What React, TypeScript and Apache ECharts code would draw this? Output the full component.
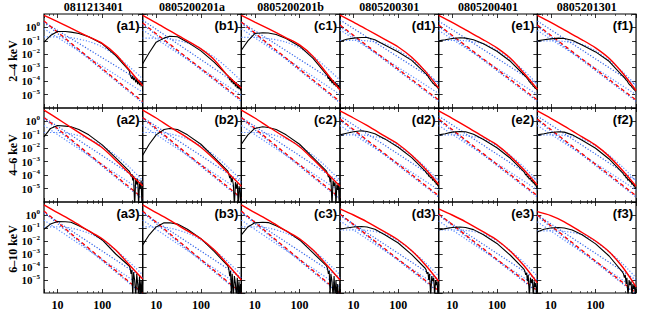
import React, { useEffect, useRef } from "react";
import * as echarts from "echarts";

const COLUMN_TITLES = ["0811213401", "0805200201a", "0805200201b", "0805200301", "0805200401", "0805201301"];
const ROW_TITLES = ["2–4 keV", "4–6 keV", "6–10 keV"];
const PANEL_LETTERS = ["a", "b", "c", "d", "e", "f"];

const RED_X = [5, 10, 20, 50, 100, 200, 400, 800];
const BLACK_X = [5, 7, 10, 15, 20, 30, 50, 100, 200, 400];
const TAIL_X = [420, 440, 460, 480, 500, 530, 560, 590, 620, 650, 680, 710, 740, 770, 800];
const FLAT_X = [5, 10, 20, 50, 100, 200, 400, 800];
const LINE_X = [5, 800];

// panel order: row 1 a..f, row 2 a..f, row 3 a..f
const RED_SOLID = [
  [8, 2.7, 0.87, 0.2, 0.065, 0.01, 7e-4, 4.5e-5],
  [8, 2.2, 0.57, 0.1, 0.025, 3.8e-3, 2.5e-4, 3e-5],
  [8, 2.5, 0.8, 0.17, 0.05, 7e-3, 4e-4, 2.2e-5],
  [8.4, 2.5, 0.7, 0.13, 0.035, 6e-3, 5.6e-4, 3e-5],
  [8, 2.4, 0.65, 0.12, 0.03, 5e-3, 4e-4, 2.5e-5],
  [8, 2.4, 0.65, 0.12, 0.03, 5e-3, 4e-4, 2e-5],
  [7, 1.6, 0.36, 0.05, 0.011, 1.3e-3, 1.4e-4, 1.6e-5],
  [7, 1.8, 0.4, 0.06, 0.012, 1.5e-3, 1.5e-4, 1.5e-5],
  [7, 1.8, 0.4, 0.06, 0.013, 1.5e-3, 1.5e-4, 1.5e-5],
  [6, 1.8, 0.5, 0.08, 0.02, 3e-3, 3e-4, 2e-5],
  [6, 1.7, 0.45, 0.07, 0.018, 2.5e-3, 2.5e-4, 1.8e-5],
  [6, 1.7, 0.45, 0.07, 0.017, 2.5e-3, 2.2e-4, 1.5e-5],
  [6, 1.5, 0.4, 0.06, 0.015, 2e-3, 1.5e-4, 1.2e-5],
  [6, 1.5, 0.4, 0.06, 0.015, 2e-3, 1.5e-4, 1e-5],
  [6, 1.5, 0.4, 0.06, 0.015, 2e-3, 1.5e-4, 1e-5],
  [3, 1, 0.3, 0.05, 0.012, 1.8e-3, 1.5e-4, 8e-6],
  [3, 1, 0.3, 0.05, 0.012, 1.6e-3, 1.3e-4, 6e-6],
  [1.8, 0.9, 0.3, 0.045, 0.01, 1.5e-3, 1e-4, 3e-6],
];

const BLACK = [
  [0.08, 0.25, 0.5, 0.5, 0.45, 0.35, 0.2, 0.06, 8e-3, 6e-4],
  [2e-3, 0.013, 0.08, 0.16, 0.22, 0.2, 0.08, 0.018, 2.5e-3, 2.5e-4],
  [0.02, 0.1, 0.35, 0.4, 0.38, 0.3, 0.15, 0.04, 5e-3, 3e-4],
  [0.09, 0.13, 0.16, 0.18, 0.18, 0.12, 0.05, 0.015, 3.5e-3, 4e-4],
  [0.1, 0.12, 0.15, 0.17, 0.16, 0.12, 0.06, 0.017, 3e-3, 3e-4],
  [0.1, 0.12, 0.14, 0.16, 0.15, 0.11, 0.05, 0.015, 3e-3, 2.5e-4],
  [0.07, 0.3, 0.5, 0.45, 0.4, 0.25, 0.1, 0.018, 1.9e-3, 2e-4],
  [3e-3, 0.02, 0.1, 0.25, 0.3, 0.25, 0.1, 0.02, 2e-3, 2e-4],
  [0.02, 0.1, 0.3, 0.4, 0.35, 0.25, 0.1, 0.02, 2e-3, 2e-4],
  [0.1, 0.13, 0.17, 0.2, 0.18, 0.12, 0.05, 0.012, 2e-3, 2e-4],
  [0.1, 0.12, 0.16, 0.18, 0.17, 0.11, 0.045, 0.011, 1.8e-3, 1.8e-4],
  [0.1, 0.12, 0.15, 0.17, 0.16, 0.1, 0.04, 0.01, 1.6e-3, 1.5e-4],
  [0.08, 0.2, 0.32, 0.3, 0.28, 0.15, 0.06, 0.012, 1e-3, 1.2e-4],
  [5e-3, 0.03, 0.12, 0.25, 0.25, 0.2, 0.08, 0.015, 1.5e-3, 1.2e-4],
  [0.03, 0.12, 0.25, 0.28, 0.26, 0.15, 0.06, 0.012, 1.2e-3, 1.2e-4],
  [0.08, 0.1, 0.12, 0.13, 0.12, 0.08, 0.03, 7e-3, 9e-4, 8e-5],
  [0.07, 0.09, 0.11, 0.12, 0.11, 0.075, 0.03, 6.5e-3, 8e-4, 7e-5],
  [0.05, 0.08, 0.1, 0.11, 0.1, 0.07, 0.03, 6e-3, 7e-4, 4e-5],
];

const BLACK_TAIL = [
  [3e-4, 2e-4, 1.5e-4, 2.5e-4, 1.2e-4, 1.8e-4, 8e-5, 1.5e-4, 6e-5, 1.2e-4, 5e-5, 9e-5, 4e-5, 8e-5, 6e-5],
  [2e-4, 1.2e-4, 1.8e-4, 8e-5, 1.4e-4, 6e-5, 1e-4, 4e-5, 8e-5, 3e-5, 6e-5, 2.5e-5, 5e-5, 2e-5, 3e-5],
  [2.5e-4, 1.5e-4, 2.2e-4, 1e-4, 1.6e-4, 7e-5, 1.2e-4, 5e-5, 9e-5, 4e-5, 7e-5, 3e-5, 5e-5, 2.5e-5, 3e-5],
  [3.5e-4, 2.8e-4, 2.4e-4, 1.8e-4, 1.6e-4, 1.1e-4, 9.5e-5, 7e-5, 6.5e-5, 5e-5, 4.8e-5, 4e-5, 3.7e-5, 3e-5, 2.9e-5],
  [2.6e-4, 2.2e-4, 1.8e-4, 1.5e-4, 1.3e-4, 9e-5, 8e-5, 6e-5, 5.5e-5, 4e-5, 3.8e-5, 3e-5, 2.9e-5, 2.4e-5, 2.3e-5],
  [2.2e-4, 1.8e-4, 1.5e-4, 1.2e-4, 1.1e-4, 8e-5, 6e-5, 5e-5, 4.5e-5, 3.5e-5, 3e-5, 2.5e-5, 2.3e-5, 1.9e-5, 1.8e-5],
  [1.5e-4, 8e-5, 1.2e-4, 4e-5, 9e-5, 5e-7, 6e-5, 2e-5, 5e-5, 5e-7, 3e-5, 1e-5, 4e-5, 5e-7, 2e-5],
  [1.2e-4, 6e-5, 9e-5, 3e-5, 6e-5, 2e-5, 5e-7, 3e-5, 1e-5, 2.5e-5, 5e-7, 1.5e-5, 8e-6, 5e-7, 1e-5],
  [1.3e-4, 7e-5, 1e-4, 3e-5, 7e-5, 5e-7, 4e-5, 1.5e-5, 3e-5, 5e-7, 2e-5, 8e-6, 2.5e-5, 5e-7, 1e-5],
  [1.6e-4, 1.2e-4, 1.3e-4, 8e-5, 9e-5, 6e-5, 7e-5, 4e-5, 5e-5, 3e-5, 3.5e-5, 2e-5, 2.5e-5, 1.5e-5, 1.8e-5],
  [1.4e-4, 1e-4, 1.2e-4, 7e-5, 8e-5, 5e-5, 6e-5, 3.5e-5, 4e-5, 2.5e-5, 3e-5, 1.8e-5, 2e-5, 1.2e-5, 1.5e-5],
  [1.2e-4, 9e-5, 1e-4, 6e-5, 7e-5, 4e-5, 5e-5, 3e-5, 3.5e-5, 2e-5, 2.5e-5, 1.5e-5, 1.8e-5, 1e-5, 1.2e-5],
  [8e-5, 3e-5, 6e-5, 5e-7, 4e-5, 1e-5, 5e-7, 3e-5, 5e-6, 5e-7, 2e-5, 5e-7, 1e-5, 5e-7, 8e-6],
  [7e-5, 2e-5, 5e-5, 5e-7, 3e-5, 5e-7, 2e-5, 5e-6, 5e-7, 1.5e-5, 5e-7, 8e-6, 5e-7, 5e-6, 5e-7],
  [8e-5, 3e-5, 5e-5, 5e-7, 3e-5, 8e-6, 5e-7, 2e-5, 5e-7, 1e-5, 5e-7, 5e-6, 5e-7, 5e-7, 5e-6],
  [6e-5, 3e-5, 4e-5, 1e-5, 3e-5, 5e-7, 2e-5, 8e-6, 1.5e-5, 5e-7, 1e-5, 4e-6, 8e-6, 5e-7, 5e-6],
  [5e-5, 2.5e-5, 3.5e-5, 8e-6, 2.5e-5, 5e-7, 1.5e-5, 6e-6, 1.2e-5, 5e-7, 8e-6, 3e-6, 6e-6, 5e-7, 4e-6],
  [3e-5, 1.5e-5, 2.5e-5, 5e-6, 1.5e-5, 5e-7, 1e-5, 4e-6, 8e-6, 5e-7, 5e-6, 2e-6, 4e-6, 5e-7, 3e-6],
];

// [y at x=5, y at x=800]
const RED_DASHED = [
  [3, 3e-6], [2.1, 4e-6], [2.5, 3e-6], [1.5, 4e-6], [1.5, 4e-6], [1.5, 4e-6],
  [2, 2e-6], [2, 2e-6], [2, 2e-6], [1.5, 3e-6], [1.5, 3e-6], [1.5, 3e-6],
  [2, 1e-6], [2, 1e-6], [2, 1e-6], [1.2, 1.5e-6], [1.2, 1.5e-6], [1, 1e-6],
];
const BLUE_STEEP = [
  [2.4, 2.4e-6], [1.7, 3.2e-6], [2, 2.4e-6], [1.2, 3.2e-6], [1.2, 3.2e-6], [1.2, 3.2e-6],
  [1.6, 1.6e-6], [1.6, 1.6e-6], [1.6, 1.6e-6], [1.2, 2.4e-6], [1.2, 2.4e-6], [1.2, 2.4e-6],
  [1.6, 8e-7], [1.6, 8e-7], [1.6, 8e-7], [1, 1.2e-6], [1, 1.2e-6], [0.8, 8e-7],
];
const BLUE_A = [
  [2.5, 8e-5], [3.5, 3.7e-5], [2.5, 5e-5], [3.6, 7.5e-5], [3, 6e-5], [3, 5e-5],
  [2, 3e-5], [2, 3e-5], [2, 3e-5], [2.5, 4e-5], [2.5, 4e-5], [2.5, 4e-5],
  [1.5, 1.5e-5], [1.5, 1.5e-5], [1.5, 1.5e-5], [1, 1e-5], [1, 1e-5], [1, 1e-5],
];
const BLUE_B = [
  [0.8, 1.5e-5], [0.65, 9e-6], [0.8, 1e-5], [0.65, 1.2e-5], [0.6, 1e-5], [0.6, 1e-5],
  [0.5, 6e-6], [0.5, 6e-6], [0.5, 6e-6], [0.5, 8e-6], [0.5, 8e-6], [0.5, 8e-6],
  [0.4, 3e-6], [0.4, 3e-6], [0.4, 3e-6], [0.35, 3e-6], [0.35, 3e-6], [0.3, 2e-6],
];
const BLUE_FLAT = [
  [0.2, 0.2, 0.17, 0.09, 0.035, 8e-3, 1.2e-3, 1.5e-4],
  [0.16, 0.16, 0.14, 0.07, 0.025, 6e-3, 9e-4, 1e-4],
  [0.18, 0.18, 0.15, 0.08, 0.03, 7e-3, 1e-3, 1.2e-4],
  [0.11, 0.11, 0.1, 0.06, 0.02, 4e-3, 6e-4, 6e-5],
  [0.11, 0.11, 0.1, 0.06, 0.02, 4e-3, 6e-4, 6e-5],
  [0.1, 0.1, 0.09, 0.055, 0.018, 3.5e-3, 5e-4, 5e-5],
  [0.15, 0.15, 0.12, 0.05, 0.015, 3e-3, 4e-4, 4e-5],
  [0.15, 0.15, 0.12, 0.05, 0.015, 3e-3, 4e-4, 4e-5],
  [0.15, 0.15, 0.12, 0.05, 0.015, 3e-3, 4e-4, 4e-5],
  [0.1, 0.1, 0.09, 0.05, 0.015, 3e-3, 4e-4, 4e-5],
  [0.1, 0.1, 0.09, 0.05, 0.015, 3e-3, 4e-4, 4e-5],
  [0.1, 0.1, 0.09, 0.05, 0.015, 3e-3, 4e-4, 4e-5],
  [0.12, 0.12, 0.1, 0.04, 0.012, 2e-3, 2.5e-4, 2.5e-5],
  [0.12, 0.12, 0.1, 0.04, 0.012, 2e-3, 2.5e-4, 2.5e-5],
  [0.12, 0.12, 0.1, 0.04, 0.012, 2e-3, 2.5e-4, 2.5e-5],
  [0.07, 0.07, 0.065, 0.035, 0.01, 1.8e-3, 2.2e-4, 2e-5],
  [0.07, 0.07, 0.065, 0.035, 0.01, 1.8e-3, 2.2e-4, 2e-5],
  [0.06, 0.06, 0.055, 0.03, 0.009, 1.5e-3, 1.8e-4, 1.5e-5],
];

const SERIF = "'Liberation Serif', 'DejaVu Serif', serif";
const SANS = "'Liberation Sans', Arial, sans-serif";

const PLOT_LEFT = 44;
const PLOT_TOP = 14;
const PANEL_W = 98.67;
const PANEL_H = 94;

function zip(xs: number[], ys: number[]) {
  return xs.map((x, i) => [x, ys[i]]);
}

function supLabel(v: number) {
  const e = Math.round(Math.log10(v));
  const s = e < 0 ? "−" + String(-e) : String(e);
  return `{b|10}{s|${s}}`;
}

export default function App() {
  const ref = useRef<HTMLDivElement>(null);
  useEffect(() => {
    if (!ref.current) return;
    const chart = echarts.init(ref.current, undefined, { renderer: "svg" });
    const grids: any[] = [];
    const xAxes: any[] = [];
    const yAxes: any[] = [];
    const series: any[] = [];
    const graphics: any[] = [];

    for (let r = 0; r < 3; r++) {
      for (let c = 0; c < 6; c++) {
        const p = r * 6 + c;
        const left = PLOT_LEFT + c * PANEL_W;
        const top = PLOT_TOP + r * PANEL_H;
        grids.push({
          left, top, width: PANEL_W, height: PANEL_H,
          show: true, borderColor: "#000", borderWidth: 1.2, backgroundColor: "transparent",
        });
        const tick = { show: true, inside: true, length: 4, lineStyle: { color: "#000", width: 0.8 } };
        const minor = { show: true, splitNumber: 5, length: 2, lineStyle: { color: "#000", width: 0.6 } };
        const xBase = {
          type: "log", logBase: 10, gridIndex: p, min: 5, max: 800,
          axisLine: { show: false }, axisTick: tick, minorTick: minor,
          splitLine: { show: false },
        };
        xAxes.push({
          ...xBase, position: "bottom",
          axisLabel: {
            show: r === 2, showMinLabel: false, showMaxLabel: false,
            fontFamily: SERIF, fontWeight: "bold", fontSize: 12, color: "#000", margin: 6,
            formatter: (v: number) => String(Math.round(v)),
          },
        });
        xAxes.push({ ...xBase, position: "top", axisLabel: { show: false } });
        const yBase = {
          type: "log", logBase: 10, gridIndex: p, min: 1e-6, max: 10,
          axisLine: { show: false }, axisTick: tick, minorTick: { ...minor, show: false },
          splitLine: { show: false },
        };
        yAxes.push({
          ...yBase, position: "left",
          axisLabel: {
            show: c === 0, showMinLabel: false, showMaxLabel: false, margin: 4,
            formatter: supLabel, color: "#000",
            rich: {
              b: { fontFamily: SERIF, fontWeight: "bold", fontSize: 11, color: "#000" },
              s: { fontFamily: SERIF, fontWeight: "bold", fontSize: 7, color: "#000", verticalAlign: "top", padding: [0, 0, 6, 0] },
            },
          },
        });
        yAxes.push({ ...yBase, position: "right", axisLabel: { show: false } });

        const xi = p * 2;
        const yi = p * 2;
        const common = { xAxisIndex: xi, yAxisIndex: yi, showSymbol: false, symbol: "none", animation: false, silent: true, clip: true };
        series.push({
          ...common, type: "line", data: zip(FLAT_X, BLUE_FLAT[p]), smooth: 0.3,
          lineStyle: { color: "#5b8cff", width: 1.2, type: [1.2, 1.8] },
        });
        series.push({
          ...common, type: "line", data: zip(LINE_X, BLUE_A[p]),
          lineStyle: { color: "#2f62e8", width: 1.2, type: [1.2, 1.8] },
        });
        series.push({
          ...common, type: "line", data: zip(LINE_X, BLUE_B[p]),
          lineStyle: { color: "#5b8cff", width: 1.2, type: [1.2, 1.8] },
        });
        series.push({
          ...common, type: "line", data: zip(LINE_X, BLUE_STEEP[p]),
          lineStyle: { color: "#2f62e8", width: 1.2, type: [1.2, 1.8] },
        });
        series.push({
          ...common, type: "line", data: zip(LINE_X, RED_DASHED[p]),
          lineStyle: { color: "#ff0000", width: 1.3, type: [4, 3] },
        });
        series.push({
          ...common, type: "line",
          data: zip(BLACK_X, BLACK[p]).concat(zip(TAIL_X, BLACK_TAIL[p])),
          lineStyle: { color: "#000", width: 1.1 },
        });
        series.push({
          ...common, type: "line", data: zip(RED_X, RED_SOLID[p]), smooth: 0.3,
          lineStyle: { color: "#ff0000", width: 1.4 },
        });

        graphics.push({
          type: "text", x: left + PANEL_W - 3, y: top + 11.5,
          style: {
            text: `(${PANEL_LETTERS[c]}${r + 1})`, fill: "#000", font: `bold 13px ${SANS}`,
            textAlign: "right", textVerticalAlign: "middle",
          },
          z: 100,
        });
      }
    }
    for (let c = 0; c < 6; c++) {
      graphics.push({
        type: "text", x: PLOT_LEFT + c * PANEL_W + PANEL_W / 2, y: 7,
        style: {
          text: COLUMN_TITLES[c], fill: "#000", font: `bold 12px ${SERIF}`,
          textAlign: "center", textVerticalAlign: "middle",
        },
      });
    }
    for (let r = 0; r < 3; r++) {
      graphics.push({
        type: "text", x: 13, y: PLOT_TOP + r * PANEL_H + PANEL_H / 2, rotation: Math.PI / 2,
        style: {
          text: ROW_TITLES[r], fill: "#000", font: `bold 12px ${SERIF}`,
          textAlign: "center", textVerticalAlign: "middle",
        },
      });
    }

    chart.setOption({
      animation: false,
      backgroundColor: "#fff",
      grid: grids,
      xAxis: xAxes,
      yAxis: yAxes,
      series,
      graphic: graphics,
    });
    return () => chart.dispose();
  }, []);
  return <div ref={ref} style={{ position: "fixed", left: 0, top: 0, width: 650, height: 311 }} />;
}
